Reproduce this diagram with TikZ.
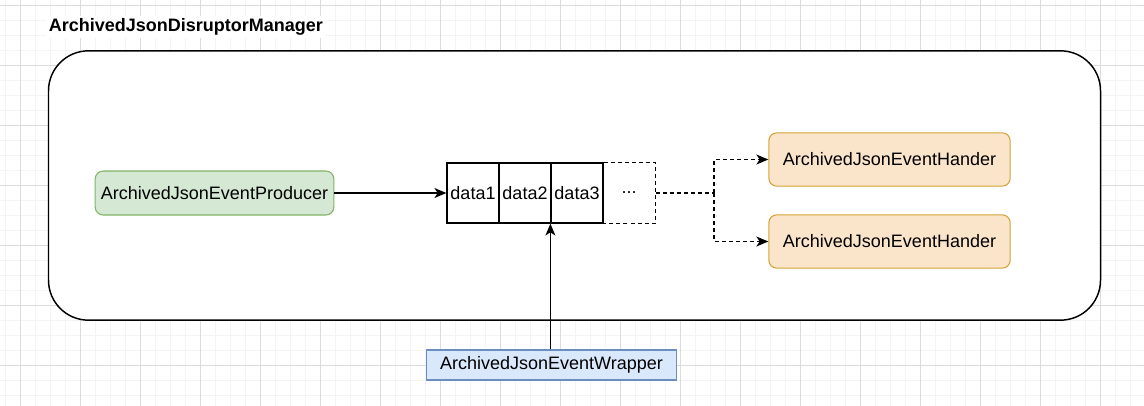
\documentclass[tikz,border=0pt]{standalone}
\usepackage{fontspec}
\setmainfont{Liberation Sans}
\usetikzlibrary{arrows.meta,positioning}

\definecolor{gridminor}{HTML}{F4F4F4}
\definecolor{gridmajor}{HTML}{DCDCDC}
\definecolor{prodfill}{HTML}{D5E8D4}
\definecolor{prodline}{HTML}{82B366}
\definecolor{handfill}{HTML}{FAE5CB}
\definecolor{handline}{HTML}{D6A235}
\definecolor{wrapfill}{HTML}{DAE8FC}
\definecolor{wrapline}{HTML}{6C8EBF}

\tikzset{
  label text/.style={font=\fontsize{13.5}{16}\selectfont, inner sep=0pt},
  producer/.style={label text, draw=prodline, fill=prodfill, line width=0.8pt,
    rounded corners=6pt, minimum width=179pt, minimum height=33pt},
  handler/.style={label text, draw=handline, fill=handfill, line width=0.8pt,
    rounded corners=6pt, minimum width=181pt, minimum height=40pt},
  wrapper/.style={label text, draw=wrapline, fill=wrapfill, line width=0.8pt,
    minimum width=187pt, minimum height=22.5pt},
  cell/.style={label text, draw, line width=0.9pt, minimum width=39pt, minimum height=45pt},
  flow/.style={line width=0.9pt, -{Stealth[length=9pt,width=7.5pt,inset=2.5pt]}},
  dashflow/.style={flow, dash pattern=on 3pt off 2.3pt},
}

\begin{document}
\begin{tikzpicture}[x=0.75pt, y=-0.75pt]

	% page and background grid
	\useasboundingbox (0,0) rectangle (1144,406);
	\fill[white] (0,0) rectangle (1144,406);
	\foreach \x in {5,20,...,1140} \draw[gridminor, line width=0.6pt] (\x,0) -- (\x,406);
	\foreach \y in {5,20,...,405} \draw[gridminor, line width=0.6pt] (0,\y) -- (1144,\y);
	\foreach \x in {20,80,...,1140} \draw[gridmajor, line width=0.6pt] (\x,0) -- (\x,406);
	\foreach \y in {5,65,...,405} \draw[gridmajor, line width=0.6pt] (0,\y) -- (1144,\y);

	% container
	\node[draw, fill=white, line width=1.1pt, rounded corners=30pt,
	  minimum width=789pt, minimum height=202pt] (manager) at (574.5,185.5) {};
	\node[label text, font=\fontsize{13.5}{16}\selectfont\bfseries, fill=white,
	  inner sep=2pt, anchor=west] (title) at (46,27) {ArchivedJsonDisruptorManager};

	% producer
	\node[producer] (producer) at (214.5,193) {ArchivedJsonEventProducer};

	% ring buffer cells
	\node[cell] (data1) at (473,193) {data1};
	\node[cell, right=-0.9pt of data1] (data2) {data2};
	\node[cell, right=-0.9pt of data2] (data3) {data3};
	\node[cell, draw=none, right=-0.9pt of data3] (dots) {...};
	\draw[line width=0.9pt, dash pattern=on 3pt off 2.3pt]
	  (data3.north east) -- (dots.north east) -- (dots.south east) -- (data3.south east);

	% handlers
	\node[handler] (handler1) at (889.5,159.5) {ArchivedJsonEventHander};
	\node[handler] (handler2) at (889.5,241.5) {ArchivedJsonEventHander};

	% wrapper
	\node[wrapper] (wrapper) at (551.5,365) {ArchivedJsonEventWrapper};

	% connectors
	\coordinate (split) at (714,193);
	\draw[flow] (producer) -- (data1);
	\draw[line width=0.9pt, dash pattern=on 3pt off 2.3pt] (dots.east) -- (split);
	\draw[dashflow] (split) |- (handler1.west);
	\draw[dashflow] (split) |- (handler2.west);
	\draw[flow] (wrapper.north -| data3.south west) -- (data3.south west);

\end{tikzpicture}
\end{document}
